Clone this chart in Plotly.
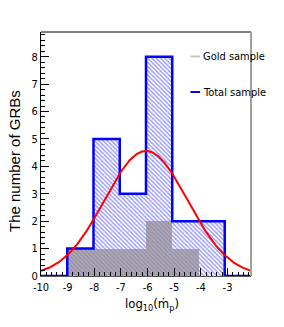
import numpy as np
import plotly.graph_objects as go

# ---- data ----
x_lo, x_hi, n_bins = -10.0, -2.12, 8
total_counts = [0, 1, 5, 3, 8, 2, 2, 0]
gold_counts = [0, 1, 1, 1, 2, 1, 0, 0]
fit_amp, fit_mean, fit_sigma = 4.56, -6.06, 1.56
x_ticks = [-10, -9, -8, -7, -6, -5, -4, -3]
y_ticks = [0, 1, 2, 3, 4, 5, 6, 7, 8]
legend_labels = ["Gold sample", "Total sample"]

edges = np.linspace(x_lo, x_hi, n_bins + 1)
centers = 0.5 * (edges[:-1] + edges[1:])
bw = edges[1] - edges[0]

FONT = "Liberation Sans Narrow, DejaVu Sans Condensed, Liberation Sans, sans-serif"
SANS = "Liberation Sans, Arial, sans-serif"

fig = go.Figure()
# hatched total histogram fill
fig.add_trace(go.Bar(
    x=centers, y=total_counts, width=bw,
    marker=dict(color="white", line=dict(width=0),
                pattern=dict(shape="\\", fgcolor="rgb(40,40,255)", bgcolor="white",
                             size=3, solidity=0.45)),
    showlegend=False, hoverinfo="skip"))
# gold sample filled
fig.add_trace(go.Bar(
    x=centers, y=gold_counts, width=bw,
    marker=dict(color="rgba(145,138,145,0.72)", line=dict(width=0)),
    showlegend=False, hoverinfo="skip"))
# total outline (step)
fig.add_trace(go.Scatter(
    x=list(edges), y=total_counts + [total_counts[-1]], mode="lines",
    line=dict(color="rgb(0,0,255)", width=2.5, shape="hv"),
    showlegend=False, hoverinfo="skip"))
# gaussian fit
xf = np.linspace(x_lo, x_hi, 300)
yf = fit_amp * np.exp(-0.5 * ((xf - fit_mean) / fit_sigma) ** 2)
fig.add_trace(go.Scatter(x=xf, y=yf, mode="lines",
                         line=dict(color="rgb(255,0,0)", width=2),
                         showlegend=False, hoverinfo="skip"))

L, R, T, B = 41, 33, 32, 51
W, H = 284, 327
pw, ph = W - L - R, H - T - B

def px(xp):
    return (xp - L) / pw

def py(yp):
    return (H - B - yp) / ph

shapes = [
    dict(type="line", xref="paper", yref="paper", x0=0, x1=1, y0=1, y1=1,
         line=dict(color="black", width=1)),
    dict(type="line", xref="paper", yref="paper", x0=1, x1=1, y0=0, y1=1,
         line=dict(color="rgb(160,160,160)", width=2)),
    dict(type="line", xref="paper", yref="paper", x0=px(190.5), x1=px(200), y0=py(56.5), y1=py(56.5),
         line=dict(color="rgb(200,195,188)", width=2)),
    dict(type="line", xref="paper", yref="paper", x0=px(190.5), x1=px(200), y0=py(92), y1=py(92),
         line=dict(color="rgb(0,0,255)", width=2)),
]
annotations = [
    dict(text=legend_labels[0], xref="paper", yref="paper", x=px(201), y=py(56.5),
         xanchor="left", yanchor="middle", showarrow=False, font=dict(family=FONT, size=11, color="black")),
    dict(text=legend_labels[1], xref="paper", yref="paper", x=px(201), y=py(92),
         xanchor="left", yanchor="middle", showarrow=False, font=dict(family=FONT, size=11, color="black")),
    dict(text="The number of GRBs", xref="paper", yref="paper", x=px(14), y=py(161),
         xanchor="center", yanchor="middle", textangle=-90, showarrow=False,
         font=dict(family=SANS, size=15, color="black")),
    dict(text="log<sub>10</sub>(m\u0307<sub>p</sub>)", xref="paper", yref="paper", x=px(152), y=py(304),
         xanchor="center", yanchor="middle", showarrow=False,
         font=dict(family=FONT, size=13, color="black")),
]

fig.update_layout(
    width=W, height=H, margin=dict(l=L, r=R, t=T, b=B, autoexpand=False),
    paper_bgcolor="white", plot_bgcolor="white", barmode="overlay", bargap=0,
    showlegend=False, shapes=shapes, annotations=annotations,
    font=dict(family=FONT, size=11, color="black"),
    xaxis=dict(range=[x_lo, x_hi], tickvals=x_ticks, ticktext=[str(v) for v in x_ticks],
               ticks="inside", ticklen=8, tickcolor="black", tickwidth=1, ticklabelstandoff=1,
               minor=dict(ticks="inside", ticklen=4, dtick=0.2, tick0=-10, tickcolor="black"),
               showline=True, linecolor="rgb(90,90,90)", linewidth=1, showgrid=False, zeroline=False,
               tickfont=dict(family=FONT, size=11)),
    yaxis=dict(range=[0, 8.9], tickvals=y_ticks, ticktext=[str(v) for v in y_ticks],
               ticks="inside", ticklen=8, tickcolor="black", tickwidth=1,
               minor=dict(ticks="inside", ticklen=4, dtick=0.2, tick0=0, tickcolor="black"),
               showline=True, linecolor="black", linewidth=1, showgrid=False, zeroline=False,
               tickfont=dict(family=FONT, size=11)),
)

fig.write_html("out.html", config={"displayModeBar": False},
               post_script="document.body.style.margin='0';")
